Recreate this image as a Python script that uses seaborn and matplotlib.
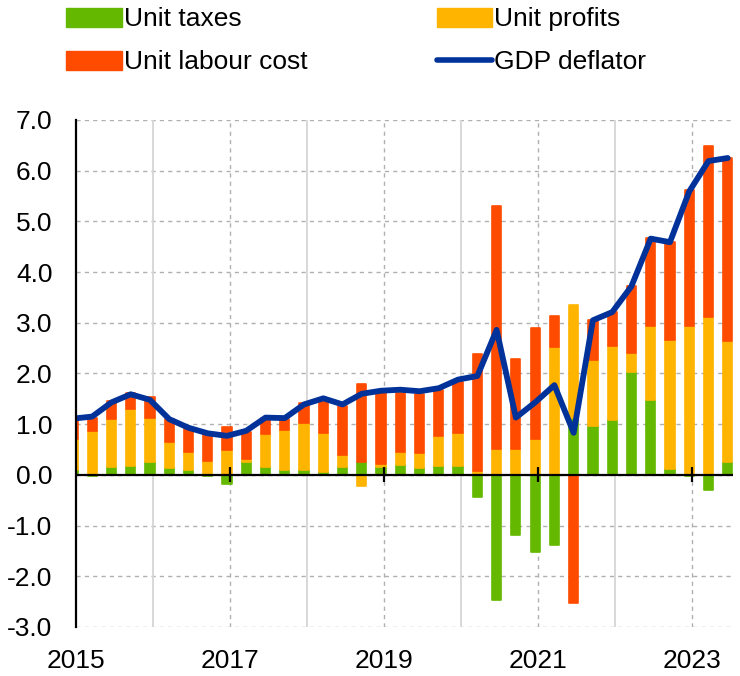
import numpy as np
import pandas as pd
import matplotlib
matplotlib.use("Agg")
import matplotlib.pyplot as plt
import seaborn as sns
from matplotlib.patches import Patch
from matplotlib.lines import Line2D

# quarterly contributions, 2015Q1 - 2023Q3 (percentage points)
quarters = [f"{y}Q{q}" for y in range(2015, 2024) for q in range(1, 5)][:35]
unit_taxes = [0.10, -0.03, 0.15, 0.18, 0.26, 0.13, 0.10, -0.03, -0.18, 0.25,
              0.15, 0.09, 0.09, 0.05, 0.15, 0.25, 0.15, 0.20, 0.13, 0.17,
              0.17, -0.44, -2.47, -1.18, -1.52, -1.39, 1.13, 0.97, 1.08, 2.02,
              1.48, 0.12, -0.03, -0.29, 0.26]
unit_profits = [0.60, 0.87, 0.95, 1.12, 0.87, 0.51, 0.35, 0.28, 0.49, 0.06,
                0.66, 0.79, 0.94, 0.77, 0.24, -0.21, 0.07, 0.25, 0.30, 0.60,
                0.65, 0.07, 0.51, 0.51, 0.71, 2.52, 2.23, 1.29, 1.46, 0.39,
                1.45, 2.55, 2.94, 3.11, 2.39]
unit_labour_cost = [0.40, 0.26, 0.36, 0.32, 0.40, 0.46, 0.45, 0.53, 0.46, 0.53,
                    0.32, 0.22, 0.38, 0.67, 0.97, 1.55, 1.44, 1.17, 1.17, 0.90,
                    1.01, 2.31, 4.80, 1.78, 2.18, 0.62, -2.53, 0.80, 0.67, 1.32,
                    1.74, 1.93, 2.68, 3.38, 3.61]
gdp_deflator = [1.11, 1.15, 1.43, 1.59, 1.48, 1.10, 0.93, 0.82, 0.77, 0.87,
                1.13, 1.12, 1.39, 1.51, 1.39, 1.60, 1.66, 1.68, 1.65, 1.71,
                1.88, 1.95, 2.86, 1.13, 1.43, 1.77, 0.83, 3.05, 3.21, 3.72,
                4.66, 4.59, 5.59, 6.19, 6.25]

series = [("Unit taxes", unit_taxes, "#65B800"),
          ("Unit profits", unit_profits, "#FFB400"),
          ("Unit labour cost", unit_labour_cost, "#FF4B00")]
line_color = "#003299"

sns.set_theme(style="white")
plt.rcParams["font.family"] = ["Liberation Sans", "DejaVu Sans"]
plt.rcParams["font.size"] = 19
plt.rcParams["text.color"] = "black"

# quarter -> decimal year position on the time axis
xpos = np.array([int(q[:4]) + (int(q[-1]) - 1) * 0.25 - 0.04 for q in quarters])

fig = plt.figure(figsize=(7.4, 6.76), dpi=100)
ax = fig.add_axes([0.1027, 0.0725, 0.888, 0.75])

# stacked bars: positives upward, negatives downward
pos_base = np.zeros(len(quarters))
neg_base = np.zeros(len(quarters))
for name, vals, col in series:
    v = np.array(vals)
    bottom = np.where(v >= 0, pos_base, neg_base)
    ax.bar(xpos, v, bottom=bottom, width=0.12, color=col, edgecolor=col,
           linewidth=1.2, joinstyle="round", zorder=3)
    pos_base = pos_base + np.where(v >= 0, v, 0)
    neg_base = neg_base + np.where(v < 0, v, 0)

df_line = pd.DataFrame({"x": xpos, "deflator": gdp_deflator})
sns.lineplot(data=df_line, x="x", y="deflator", ax=ax, color=line_color,
             linewidth=4.2, solid_joinstyle="round", solid_capstyle="round",
             zorder=5)

ax.set_xlim(2015, 2023.53)
ax.set_ylim(-3, 7)
ax.set_xlabel("")
ax.set_ylabel("")

# grid
for yv in np.arange(-3, 7.01, 1):
    ax.axhline(yv, color="#b0b0b0", lw=1, ls=(0, (3, 3)), zorder=1)
for yr in [2017, 2019, 2021, 2023]:
    ax.axvline(yr, color="#b0b0b0", lw=1, ls=(0, (3, 3)), zorder=1)
for yr in [2016, 2018, 2020, 2022]:
    ax.axvline(yr, color="#d6d6d6", lw=1.3, zorder=1)

ax.axhline(0, color="black", lw=1.6, zorder=4)
ax.vlines([2017, 2019, 2021, 2023], -0.15, 0.15, color="black", lw=1.6, zorder=4)

ax.set_xticks([2015, 2017, 2019, 2021, 2023])
ax.set_xticklabels(["2015", "2017", "2019", "2021", "2023"])
ax.set_yticks(np.arange(-3, 7.01, 1))
ax.set_yticklabels([f"{v:.1f}" for v in np.arange(-3, 7.01, 1)])
ax.tick_params(axis="both", length=0, labelsize=19, colors="black")
ax.tick_params(axis="y", pad=17)
ax.tick_params(axis="x", pad=16)

for s in ["top", "right", "bottom"]:
    ax.spines[s].set_visible(False)
ax.spines["left"].set_color("black")
ax.spines["left"].set_linewidth(1.6)
ax.spines["left"].set_zorder(6)

handles = [Patch(facecolor=series[0][2], edgecolor=series[0][2]),
           Patch(facecolor=series[2][2], edgecolor=series[2][2]),
           Patch(facecolor=series[1][2], edgecolor=series[1][2]),
           Line2D([0], [0], color=line_color, lw=4)]
labels = ["Unit taxes", "Unit labour cost", "Unit profits", "GDP deflator"]
fig.legend(handles, labels, loc="upper left", bbox_to_anchor=(0.086, 0.993),
           ncol=2, frameon=False, borderpad=0.1, borderaxespad=0,
           handlelength=2.1, handleheight=0.75, handletextpad=0.08,
           columnspacing=4.9, labelspacing=0.72, fontsize=19,
           labelcolor="black")

fig.savefig("out.png", dpi=100)
